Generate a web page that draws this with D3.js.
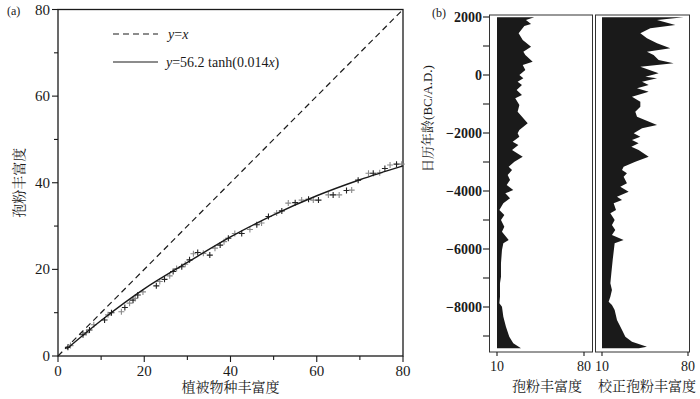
<!DOCTYPE html>
<html lang="zh">
<head>
<meta charset="UTF-8">
<title>孢粉丰富度</title>
<script src="https://d3js.org/d3.v7.min.js"></script>
<style>
  body { margin: 0; background: #fff; }
  text { font-family: "Liberation Serif", "Times New Roman", "Noto Serif CJK SC", "Noto Sans CJK SC", serif; fill: #1a1a1a; }
</style>
</head>
<body>
<script>
// ---- 数据 ----
// (a) 植被物种丰富度 vs 孢粉丰富度
var vegRichness = [2.3, 2.9, 5.8, 6.6, 7.3, 8.3, 10.8, 11.6, 12.4, 14.7, 15.5, 16.6, 17.4, 17.9, 18.5, 19.7,
  22.8, 23.6, 24.7, 25.9, 26.7, 27.5, 28.7, 29.5, 30.5, 31.4, 32.4, 33.7, 35.2, 36.4, 37.6, 38.5, 39.5,
  41.0, 42.6, 44.5, 46.1, 47.2, 48.8, 50.7, 51.9, 53.4, 55.0, 56.5, 58.1, 59.2, 60.4, 62.7, 63.8, 65.2,
  66.9, 68.1, 69.6, 72.0, 73.1, 74.6, 75.8, 77.0, 78.5, 79.7];
var pollenRichness = [2.0, 2.4, 4.9, 5.4, 6.0, 7.2, 8.3, 9.5, 10.0, 10.2, 11.2, 12.2, 12.9, 13.3, 14.1, 14.8,
  16.2, 17.2, 17.7, 18.5, 19.5, 20.2, 20.6, 21.2, 22.2, 23.6, 23.9, 23.7, 23.3, 24.9, 25.6, 26.4, 27.2,
  28.3, 28.3, 29.2, 30.3, 30.7, 32.2, 33.0, 33.5, 35.3, 35.4, 36.0, 36.2, 36.0, 36.0, 37.2, 37.2, 37.2,
  38.2, 38.3, 40.6, 42.2, 42.2, 42.3, 43.3, 44.1, 44.3, 44.3];
// 拟合曲线 y=56.2 tanh(0.014x)
var fitX = [2, 10, 20, 30, 40, 50, 60, 70, 80];
var fitY = [1.6, 8.2, 15.5, 21.6, 27.5, 32.6, 37.0, 40.7, 43.9];
var identityX = [0, 80];

// (b) 日历年龄剖面
var p1Years = [1990, 1897, 1759, 1690, 1437, 1207, 977, 805, 690, 460, 345, 172, 0, -115, -230, -345, -517,
  -690, -805, -1034, -1264, -1667, -1897, -2011, -2126, -2299, -2414, -2586, -2816, -2989, -3161, -3276,
  -3448, -3621, -3793, -3966, -4080, -4253, -4425, -4655, -4827, -5000, -5230, -5402, -5690, -5804,
  -6034, -6494, -6954, -7184, -7644, -7874, -7989, -8333, -8678, -9023, -9253, -9425];
var p1Values = [40.0, 33.3, 37.4, 32.0, 27.4, 30.7, 37.4, 31.2, 32.8, 38.7, 30.7, 32.8, 28.0, 31.2, 26.6, 30.1, 25.8,
  30.1, 24.7, 28.0, 26.6, 34.7, 28.0, 26.6, 28.0, 22.6, 27.2, 22.1, 30.7, 24.0, 19.4, 22.1,
  18.6, 20.5, 17.8, 23.1, 16.7, 20.5, 15.1, 11.9, 15.9, 13.2, 15.9, 14.0, 19.4, 15.1,
  14.0, 13.2, 13.2, 12.4, 12.4, 11.9, 14.0, 15.1, 17.2, 19.9, 23.1, 29.3];

var p2Years = [1990, 1897, 1724, 1609, 1437, 1264, 1092, 920, 805, 690, 517, 402, 287, 57, -57, -115, -230,
  -345, -460, -575, -747, -920, -1092, -1264, -1437, -1724, -1839, -2011, -2126, -2241, -2356, -2471,
  -2586, -2816, -2989, -3161, -3276, -3391, -3506, -3736, -3851, -4023, -4195, -4310, -4425, -4655,
  -4770, -5000, -5172, -5345, -5517, -5690, -5804, -6379, -6839, -7184, -7414, -7644, -7816, -7931,
  -8103, -8448, -8793, -9023, -9195, -9368, -9425];
var p2Values = [76.5, 54.8, 69.7, 49.3, 41.2, 46.6, 54.8, 65.6, 46.6, 52.0, 56.1, 68.3, 41.2, 56.1, 45.3, 54.8, 42.6,
  48.0, 38.5, 48.0, 34.4, 41.2, 41.2, 37.1, 38.5, 54.8, 42.6, 35.8, 41.2, 34.4, 39.8, 33.9,
  39.8, 48.0, 37.1, 27.6, 26.3, 30.3, 27.6, 30.3, 24.9, 31.7, 22.2, 26.3, 19.5, 21.4,
  16.8, 20.3, 18.1, 20.8, 18.1, 27.6, 20.3, 18.7, 17.6, 16.8, 18.1, 16.8, 15.4, 18.1,
  20.3, 22.2, 26.3, 29.0, 34.4, 46.6, 40.0];

var axisTicksA = [0, 20, 40, 60, 80];
var minorTicksA = [10, 30, 50, 70];
var yearTicks = [2000, 0, -2000, -4000, -6000, -8000];
var yearMinor = [1000, -1000, -3000, -5000, -7000, -9000];
var richTicks = [10, 80];

// ---- 画布 ----
var width = 700, height = 399;
var svg = d3.select("body").append("svg")
    .attr("width", width)
    .attr("height", height);
svg.append("rect").attr("width", width).attr("height", height).attr("fill", "#fff");

var ink = "#1a1a1a";

// ================= (a) =================
var xA = d3.scaleLinear().domain([0, 80]).range([58, 403]);
var yA = d3.scaleLinear().domain([0, 80]).range([356, 9.5]);

var gA = svg.append("g");

// 边框
gA.append("rect")
    .attr("x", xA(0)).attr("y", yA(80))
    .attr("width", xA(80) - xA(0)).attr("height", yA(0) - yA(80))
    .attr("fill", "none").attr("stroke", ink).attr("stroke-width", 1.3);

// 刻度
gA.selectAll(".ytk").data(axisTicksA.concat(minorTicksA)).enter().append("line")
    .attr("x1", function (d) { return xA(0) - (d % 20 === 0 ? 6 : 4); })
    .attr("x2", xA(0))
    .attr("y1", function (d) { return yA(d); })
    .attr("y2", function (d) { return yA(d); })
    .attr("stroke", ink).attr("stroke-width", 1.1);
gA.selectAll(".xtk").data(axisTicksA.concat(minorTicksA)).enter().append("line")
    .attr("x1", function (d) { return xA(d); })
    .attr("x2", function (d) { return xA(d); })
    .attr("y1", yA(0))
    .attr("y2", function (d) { return yA(0) + (d % 20 === 0 ? 6 : 4); })
    .attr("stroke", ink).attr("stroke-width", 1.1);

gA.selectAll(".ylab").data(axisTicksA).enter().append("text")
    .attr("x", xA(0) - 8)
    .attr("y", function (d) { return yA(d) + 5; })
    .attr("text-anchor", "end")
    .style("font-size", "15px")
    .text(function (d) { return d; });
gA.selectAll(".xlab").data(axisTicksA).enter().append("text")
    .attr("x", function (d) { return xA(d); })
    .attr("y", yA(0) + 20)
    .attr("text-anchor", "middle")
    .style("font-size", "15px")
    .text(function (d) { return d; });

gA.append("text")
    .attr("x", xA(40)).attr("y", 392)
    .attr("text-anchor", "middle")
    .style("font-size", "14px")
    .text("植被物种丰富度");
gA.append("text")
    .attr("transform", "translate(24," + yA(40) + ") rotate(-90)")
    .attr("text-anchor", "middle")
    .style("font-size", "14px")
    .text("孢粉丰富度");
svg.append("text").attr("x", 7).attr("y", 15).style("font-size", "12px").text("(a)");

// y=x 虚线
gA.append("path")
    .datum(identityX)
    .attr("d", d3.line().x(function (d) { return xA(d); }).y(function (d) { return yA(d); }))
    .attr("fill", "none").attr("stroke", ink).attr("stroke-width", 1.2)
    .attr("stroke-dasharray", "6,4");

// 散点 +
var pts = vegRichness.map(function (v, i) { return [v, pollenRichness[i]]; });
var s = 3;
gA.selectAll(".pt").data(pts).enter().append("path")
    .attr("d", function (d) {
        var cx = xA(d[0]), cy = yA(d[1]);
        return "M" + (cx - s) + "," + cy + "H" + (cx + s) + "M" + cx + "," + (cy - s) + "V" + (cy + s);
    })
    .attr("stroke", function (d, i) { return i % 2 === 0 ? "#222" : "#8a8a8a"; })
    .attr("stroke-width", 1.1)
    .attr("fill", "none");

// 拟合曲线
gA.append("path")
    .datum(fitX.map(function (v, i) { return [v, fitY[i]]; }))
    .attr("d", d3.line().curve(d3.curveCatmullRom)
        .x(function (d) { return xA(d[0]); }).y(function (d) { return yA(d[1]); }))
    .attr("fill", "none").attr("stroke", ink).attr("stroke-width", 1.4);

// 图例
gA.append("line").attr("x1", 113).attr("x2", 158).attr("y1", 34).attr("y2", 34)
    .attr("stroke", ink).attr("stroke-width", 1.2).attr("stroke-dasharray", "6,4");
gA.append("line").attr("x1", 113).attr("x2", 158).attr("y1", 62).attr("y2", 62)
    .attr("stroke", ink).attr("stroke-width", 1.2);
var t1 = gA.append("text").attr("x", 168).attr("y", 39).style("font-size", "14px");
t1.append("tspan").style("font-style", "italic").text("y");
t1.append("tspan").text("=");
t1.append("tspan").style("font-style", "italic").text("x");
var t2 = gA.append("text").attr("x", 166).attr("y", 67).style("font-size", "14px");
t2.append("tspan").style("font-style", "italic").text("y");
t2.append("tspan").text("=56.2 tanh(0.014");
t2.append("tspan").style("font-style", "italic").text("x");
t2.append("tspan").text(")");

// ================= (b) =================
var yB = d3.scaleLinear().domain([2000, -8000]).range([17, 307]);
var frameTop = 15, frameBottom = 352;

svg.append("text").attr("x", 432).attr("y", 17).style("font-size", "12px").text("(b)");

// 年龄轴
var axisX = 489;
svg.selectAll(".ytkB").data(yearTicks.concat(yearMinor)).enter().append("line")
    .attr("x1", axisX - 6).attr("x2", axisX)
    .attr("y1", function (d) { return yB(d); })
    .attr("y2", function (d) { return yB(d); })
    .attr("stroke", ink).attr("stroke-width", 1.1);
svg.selectAll(".ylabB").data(yearTicks).enter().append("text")
    .attr("x", axisX - 7)
    .attr("y", function (d) { return yB(d) + 5; })
    .attr("text-anchor", "end")
    .style("font-size", "14px")
    .style("font-weight", "bold")
    .text(function (d) { return d < 0 ? "\u2212" + Math.abs(d) : d; });
svg.append("text")
    .attr("transform", "translate(432," + yB(-1500) + ") rotate(-90)")
    .attr("text-anchor", "middle")
    .style("font-size", "13px")
    .text("日历年龄(BC/A.D.)");

function drawPanel(x0, x1, scale, years, values, label, labelX) {
    var g = svg.append("g");
    var data = years.map(function (y, i) { return [y, values[i]]; });
    g.append("path")
        .datum(data)
        .attr("d", d3.area()
            .y(function (d) { return yB(d[0]); })
            .x0(scale(10))
            .x1(function (d) { return scale(d[1]); }))
        .attr("fill", ink);
    g.append("rect")
        .attr("x", x0).attr("y", frameTop)
        .attr("width", x1 - x0).attr("height", frameBottom - frameTop)
        .attr("fill", "none").attr("stroke", "#333").attr("stroke-width", 1);
    g.selectAll(".tk").data(richTicks).enter().append("line")
        .attr("x1", function (d) { return scale(d); })
        .attr("x2", function (d) { return scale(d); })
        .attr("y1", frameBottom).attr("y2", frameBottom + 4)
        .attr("stroke", ink).attr("stroke-width", 1.1);
    g.selectAll(".tl").data(richTicks).enter().append("text")
        .attr("x", function (d) { return scale(d); })
        .attr("y", frameBottom + 19)
        .attr("text-anchor", "middle")
        .style("font-size", "14px")
        .text(function (d) { return d; });
    g.append("text")
        .attr("x", labelX).attr("y", 391)
        .attr("text-anchor", "middle")
        .style("font-size", "14px")
        .text(label);
}

var xB1 = d3.scaleLinear().domain([10, 80]).range([497, 584]);
var xB2 = d3.scaleLinear().domain([10, 80]).range([602, 688]);
drawPanel(489.5, 592.5, xB1, p1Years, p1Values, "孢粉丰富度", 547);
drawPanel(595.5, 689.5, xB2, p2Years, p2Values, "校正孢粉丰富度", 647);
</script>
</body>
</html>
